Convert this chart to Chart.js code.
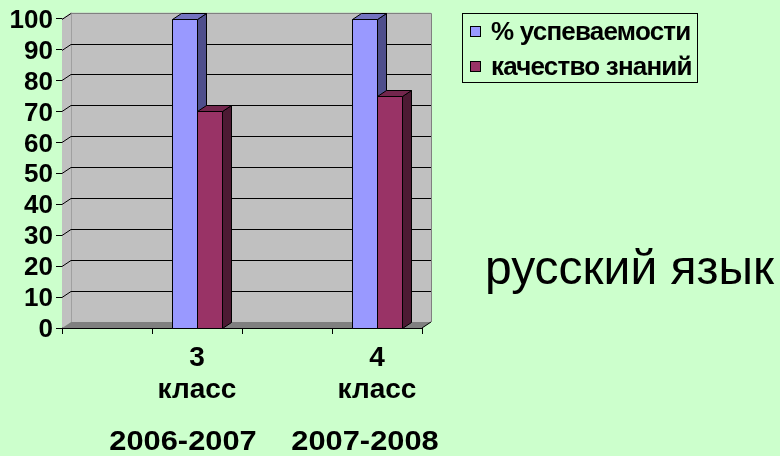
<!DOCTYPE html>
<html><head><meta charset="utf-8">
<script src="https://cdn.jsdelivr.net/npm/chart.js@4"></script>
<style>
html,body{margin:0;padding:0;background:#CCFFCC;}
#wrap{position:relative;width:780px;height:456px;overflow:hidden;background:#CCFFCC;}
canvas{position:absolute;left:0;top:0;}
.t{position:absolute;font-family:'Liberation Sans',Arial,sans-serif;color:#000;white-space:nowrap;line-height:1;}
</style></head><body>
<div id="wrap"><canvas id="c" width="780" height="456"></canvas></div>
<script>
// ---- data ----
const categories = ['', '3 класс', '', '4 класс'];
const seriesNames = ['% успеваемости', 'качество знаний'];
const uspevaemost = [null, 100, null, 100];
const kachestvo = [null, 70, null, 75];
const yTickStep = 10;
const years = ['2006-2007', '2007-2008'];
const subject = 'русский язык';

// ---- styling ----
const frontColors = ['#9999FF', '#993366'];
const sideColors = ['#4F4F8C', '#4C1A33'];
const topColors = ['#7373C0', '#73264D'];
const DX = 9, DY = -6;

function poly(ctx, pts, fill, stroke) {
  ctx.beginPath();
  ctx.moveTo(pts[0][0], pts[0][1]);
  for (let i = 1; i < pts.length; i++) ctx.lineTo(pts[i][0], pts[i][1]);
  ctx.closePath();
  if (fill) { ctx.fillStyle = fill; ctx.fill(); }
  if (stroke) { ctx.strokeStyle = stroke; ctx.lineWidth = 1; ctx.stroke(); }
}

const depthPlugin = {
  id: 'depth',
  beforeDatasetsDraw(chart) {
    const {ctx, chartArea: a, scales: {y}} = chart;
    ctx.save();
    ctx.fillStyle = '#C0C0C0';
    ctx.fillRect(a.left + DX, a.top + DY, a.right - a.left, a.bottom - a.top);
    poly(ctx, [[a.left, a.top], [a.left + DX, a.top + DY], [a.left + DX, a.bottom + DY], [a.left, a.bottom]], '#C0C0C0', null);
    poly(ctx, [[a.left, a.bottom], [a.left + DX, a.bottom + DY], [a.right + DX, a.bottom + DY], [a.right, a.bottom]], '#808080', null);
    ctx.strokeStyle = '#A0A0A0'; ctx.lineWidth = 1;
    ctx.beginPath(); ctx.moveTo(a.left + DX + 0.5, a.bottom + DY); ctx.lineTo(a.left + DX + 0.5, a.top + DY); ctx.stroke();
    y.ticks.forEach(t => {
      if (t.value <= 0) return;
      const py = Math.round(y.getPixelForValue(t.value)) + 0.5;
      ctx.strokeStyle = '#000';
      ctx.beginPath();
      ctx.moveTo(a.left, py);
      ctx.lineTo(a.left + DX, py + DY);
      if (t.value < 100) ctx.lineTo(a.right + DX, py + DY);
      ctx.stroke();
    });
    ctx.strokeStyle = '#808080';
    ctx.beginPath();
    ctx.moveTo(a.left + DX, Math.round(a.top + DY) + 0.5);
    ctx.lineTo(a.right + DX + 0.5, Math.round(a.top + DY) + 0.5);
    ctx.lineTo(a.right + DX + 0.5, a.bottom + DY);
    ctx.stroke();
    ctx.strokeStyle = '#000';
    ctx.beginPath(); ctx.moveTo(a.right, a.bottom); ctx.lineTo(a.right + DX, a.bottom + DY); ctx.stroke();
    ctx.restore();
  },
  afterDatasetsDraw(chart) {
    const ctx = chart.ctx;
    ctx.save();
    const n = chart.data.labels.length;
    for (let i = 0; i < n; i++) {
      chart.data.datasets.forEach((ds, di) => {
        if (ds.data[i] == null) return;
        const bar = chart.getDatasetMeta(di).data[i];
        const p = bar.getProps(['x', 'y', 'base', 'width'], true);
        const l = Math.round(p.x - p.width / 2) + 0.5, r = Math.round(p.x + p.width / 2) + 0.5;
        const t = Math.round(p.y) + 0.5, b = Math.round(p.base) + 0.5;
        poly(ctx, [[l, t], [r, t], [r, b], [l, b]], frontColors[di], '#000');
        poly(ctx, [[r, t], [r + DX, t + DY], [r + DX, b + DY], [r, b]], sideColors[di], '#000');
        poly(ctx, [[l, t], [l + DX, t + DY], [r + DX, t + DY], [r, t]], topColors[di], '#000');
      });
    }
    ctx.restore();
  },
  afterDraw(chart) {
    const ctx = chart.ctx;
    ctx.save();
    ctx.strokeStyle = '#000'; ctx.lineWidth = 1;
    ctx.strokeRect(462.5, 13.5, 235, 69);
    ctx.font = 'bold 26px "Liberation Sans", Arial, sans-serif';
    ctx.letterSpacing = '-0.8px';
    ctx.textBaseline = 'alphabetic';
    chart.data.datasets.forEach((ds, di) => {
      const yy = 26 + di * 35;
      ctx.fillStyle = frontColors[di];
      ctx.fillRect(470.5, yy + 0.5, 10, 10);
      ctx.strokeStyle = '#000';
      ctx.strokeRect(470.5, yy + 0.5, 10, 10);
      ctx.fillStyle = '#000';
      ctx.fillText(ds.label, 491, yy + 14);
    });
    ctx.restore();
  }
};

Chart.defaults.font.family = '"Liberation Sans", Arial, sans-serif';
Chart.defaults.color = '#000';

new Chart(document.getElementById('c'), {
  type: 'bar',
  data: {
    labels: categories,
    datasets: [
      { label: seriesNames[0], data: uspevaemost, backgroundColor: frontColors[0] },
      { label: seriesNames[1], data: kachestvo, backgroundColor: frontColors[1] }
    ]
  },
  options: {
    responsive: false,
    animation: false,
    devicePixelRatio: 1,
    layout: { padding: { left: 0, top: 17, right: 358, bottom: 0 } },
    categoryPercentage: 0.556,
    barPercentage: 1,
    plugins: { legend: { display: false }, tooltip: { enabled: false } },
    scales: {
      x: {
        offset: true,
        grid: { display: true, drawOnChartArea: false, drawTicks: true, tickLength: 6, color: '#000', offset: true },
        border: { display: true, color: '#000' },
        ticks: {
          font: { size: 28, weight: 'bold', lineHeight: 1.15 },
          padding: 8,
          maxRotation: 0, autoSkip: false,
          callback: (v, i) => categories[i] ? categories[i].split(' ') : ''
        },
        afterFit: s => { s.height = 128; }
      },
      y: {
        min: 0, max: 100,
        grid: { display: true, drawOnChartArea: false, drawTicks: true, tickLength: 6, color: '#000' },
        border: { display: true, color: '#000' },
        ticks: { stepSize: yTickStep, autoSkip: false, font: { size: 26, weight: 'bold' }, padding: 3, labelOffset: 2 },
        afterFit: s => { s.width = 62; }
      }
    }
  },
  plugins: [depthPlugin]
});

const wrap = document.getElementById('wrap');
const yearCenters = [182.5, 364.5];
years.forEach((txt, i) => {
  const d = document.createElement('div');
  d.className = 't';
  d.textContent = txt;
  d.style.fontSize = '28px';
  d.style.fontWeight = 'bold';
  d.style.left = yearCenters[i] + 'px';
  d.style.top = '427px';
  d.style.transform = 'translateX(-50%) scaleX(1.1)';
  wrap.appendChild(d);
});
const s = document.createElement('div');
s.className = 't';
s.textContent = subject;
s.style.fontSize = '48px';
s.style.left = '485px';
s.style.top = '244px';
wrap.appendChild(s);
</script>
</body></html>
